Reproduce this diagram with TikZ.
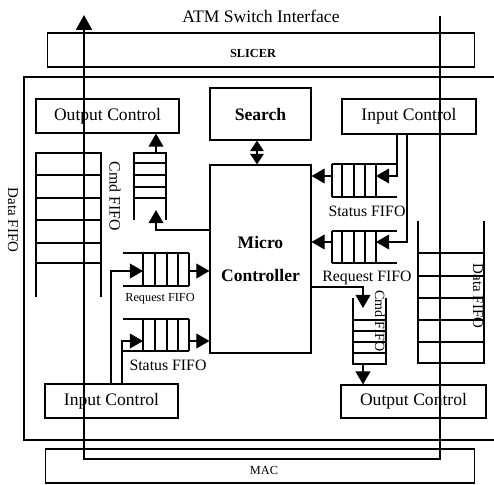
\documentclass[tikz,border=0pt]{standalone}
\usepackage{fontspec}
\setmainfont{Liberation Serif}
\usepackage{tikz}
\usetikzlibrary{arrows.meta}
\tikzset{
  blkbox/.style={draw=black,line width=0.6pt,inner sep=0pt,font=\fontsize{10}{12}\selectfont},
  fifoline/.style={draw=black,line width=0.6pt},
  fifoarrow/.style={-{Triangle[length=7.5pt,width=8.5pt]},line width=0.6pt,black},
  busarrow/.style={-{Triangle[length=8.5pt,width=9pt]},line width=1.4pt,black},
  srcharrow/.style={{Triangle[length=6pt,width=7.5pt]}-{Triangle[length=6pt,width=7.5pt]},line width=1.2pt,black},
  fifolbl/.style={inner sep=0pt,font=\fontsize{9}{10}\selectfont},
  smalllbl/.style={inner sep=0pt,font=\fontsize{7}{8}\selectfont},
}

\begin{document}
\begin{tikzpicture}[x=0.02cm,y=-0.02cm]
  \useasboundingbox (0,0) rectangle (494,484);
  % interface bands
  \node[inner sep=0pt,font=\fontsize{10}{12}\selectfont] (nTitle) at (261,16) {ATM Switch Interface};
  \node[blkbox,minimum width=8.56cm,minimum height=0.68cm] (nSlicer) at (261,50) {};
  \node[smalllbl,font=\bfseries\fontsize{7}{8}\selectfont] (nSlicerTxt) at (253,53) {SLICER};
  \node[blkbox,minimum width=8.60cm,minimum height=0.68cm] (nMac) at (260,466) {};
  \node[smalllbl] (nMacTxt) at (264,470) {MAC};
  \draw[fifoline] (494,77) -- (24,77) -- (24,440) -- (494,440);
  % control blocks
  \node[blkbox,minimum width=2.86cm,minimum height=0.68cm] (nOutCtlTop) at (107.5,116) {Output Control};
  \node[blkbox,minimum width=2.02cm,minimum height=1.04cm,font=\bfseries\fontsize{10}{12}\selectfont] (nSearch) at (260.5,114) {Search};
  \node[blkbox,minimum width=2.68cm,minimum height=0.70cm] (nInCtlTop) at (409,116.5) {Input Control};
  \node[blkbox,minimum width=2.02cm,minimum height=3.76cm,align=center,font=\bfseries\fontsize{10}{19}\selectfont] (nMicro) at (260.5,259) {Micro\\Controller};
  \node[blkbox,minimum width=2.66cm,minimum height=0.68cm] (nInCtlBot) at (111.5,401) {Input Control};
  \node[blkbox,minimum width=2.90cm,minimum height=0.66cm] (nOutCtlBot) at (413.5,401.5) {Output Control};
  % fifo ports
  \coordinate (cCmdLtop) at (156,153);
  \coordinate (cCmdLin) at (156,210);
  \coordinate (cCmdLfeed) at (156,230);
  \coordinate (cReqLin) at (143,271);
  \coordinate (cReqLout) at (189,271);
  \coordinate (cReqLtap) at (111,271);
  \coordinate (cStatLin) at (143,341);
  \coordinate (cStatLout) at (189,341);
  \coordinate (cStatLtap) at (122,341);
  \coordinate (cStatRin) at (376,176);
  \coordinate (cStatRout) at (332,176);
  \coordinate (cStatRtap) at (397,176);
  \coordinate (cReqRin) at (376,242);
  \coordinate (cReqRout) at (332,242);
  \coordinate (cReqRtap) at (407,242);
  \coordinate (cCmdRfeed) at (363,287);
  \coordinate (cCmdRin) at (363,308);
  \coordinate (cCmdRbot) at (363,364);
  % left data fifo
  \draw[fifoline] (36,297) -- (36,153) -- (101,153) -- (101,297)
    (36,175) -- (101,175) (36,198) -- (101,198) (36,220) -- (101,220)
    (36,243) -- (101,243) (36,263) -- (101,263);
  \node[fifolbl,rotate=-90,font=\fontsize{8.5}{10}\selectfont] (nDataLLbl) at (13,220) {Data FIFO};
  % left cmd fifo
  \draw[fifoline] (134,220) -- (134,153) -- (166,153) -- (166,220)
    (134,163) -- (166,163) (134,175) -- (166,175) (134,187) -- (166,187)
    (134,198) -- (166,198);
  \node[fifolbl,rotate=-90] (nCmdLLbl) at (115,196) {Cmd FIFO};
  \draw[fifoarrow] (cCmdLtop) -- (cCmdLtop |- nOutCtlTop.south);
  \draw[fifoarrow] (nMicro.west |- cCmdLfeed) -- (cCmdLfeed) -- (cCmdLin);
  % left request fifo
  \draw[fifoline] (123,253) -- (189,253) (123,286) -- (189,286)
    (143,253) -- (143,286) (155,253) -- (155,286) (167,253) -- (167,286)
    (178,253) -- (178,286) (189,253) -- (189,286);
  \node[smalllbl] (nReqLLbl) at (160,299) {Request FIFO};
  \draw[fifoarrow] (cReqLtap |- nInCtlBot.north) -- (cReqLtap) -- (cReqLin);
  \draw[fifoarrow] (cReqLout) -- (cReqLout -| nMicro.west);
  % left status fifo
  \draw[fifoline] (123,319) -- (189,319) (123,351) -- (189,351)
    (143,319) -- (143,351) (155,319) -- (155,351) (167,319) -- (167,351)
    (178,319) -- (178,351) (189,319) -- (189,351);
  \node[fifolbl] (nStatLLbl) at (168,365) {Status FIFO};
  \draw[fifoarrow] (cStatLtap |- nInCtlBot.north) -- (cStatLtap) -- (cStatLin);
  \draw[fifoarrow] (cStatLout) -- (cStatLout -| nMicro.west);
  % right status fifo
  \draw[fifoline] (332,164) -- (397,164) (332,197) -- (397,197)
    (332,164) -- (332,197) (342,164) -- (342,197) (354,164) -- (354,197)
    (365,164) -- (365,197) (376,164) -- (376,197);
  \node[fifolbl] (nStatRLbl) at (367,211) {Status FIFO};
  \draw[fifoarrow] (cStatRtap |- nInCtlTop.south) -- (cStatRtap) -- (cStatRin);
  \draw[fifoarrow] (cStatRout) -- (cStatRout -| nMicro.east);
  % right request fifo
  \draw[fifoline] (332,231) -- (397,231) (332,263) -- (397,263)
    (332,231) -- (332,263) (342,231) -- (342,263) (354,231) -- (354,263)
    (365,231) -- (365,263) (376,231) -- (376,263);
  \node[fifolbl] (nReqRLbl) at (367,278) {Request FIFO};
  \draw[fifoarrow] (cReqRtap |- nInCtlTop.south) -- (cReqRtap) -- (cReqRin);
  \draw[fifoarrow] (cReqRout) -- (cReqRout -| nMicro.east);
  % right cmd fifo
  \draw[fifoline] (353,298) -- (353,364) -- (386,364) -- (386,298)
    (353,320) -- (386,320) (353,331) -- (386,331) (353,342) -- (386,342)
    (353,353) -- (386,353);
  \node[fifolbl,rotate=-90,font=\fontsize{8}{9}\selectfont] (nCmdRLbl) at (380,321) {Cmd FIFO};
  \draw[fifoarrow] (nMicro.east |- cCmdRfeed) -- (cCmdRfeed) -- (cCmdRin);
  \draw[fifoarrow] (cCmdRbot) -- (cCmdRbot |- nOutCtlBot.north);
  % right data fifo
  \draw[fifoline] (418,221) -- (418,363) -- (484,363) -- (484,221)
    (418,253) -- (484,253) (418,276) -- (484,276) (418,298) -- (484,298)
    (418,320) -- (484,320) (418,342) -- (484,342);
  \node[fifolbl,rotate=-90,font=\fontsize{8.5}{10}\selectfont] (nDataRLbl) at (478,296) {Data FIFO};
  % search link
  \draw[srcharrow] ([xshift=-2pt]nSearch.south) -- ([xshift=-2pt]nMicro.north);
  % cell bus
  \coordinate (cBusIn) at (440,16);
  \coordinate (cBusTurnR) at (440,459);
  \coordinate (cBusTurnL) at (84,459);
  \coordinate (cBusOut) at (84,15);
  \draw[busarrow] (cBusIn) -- (cBusTurnR) -- (cBusTurnL) -- (cBusOut);
\end{tikzpicture}
\end{document}
